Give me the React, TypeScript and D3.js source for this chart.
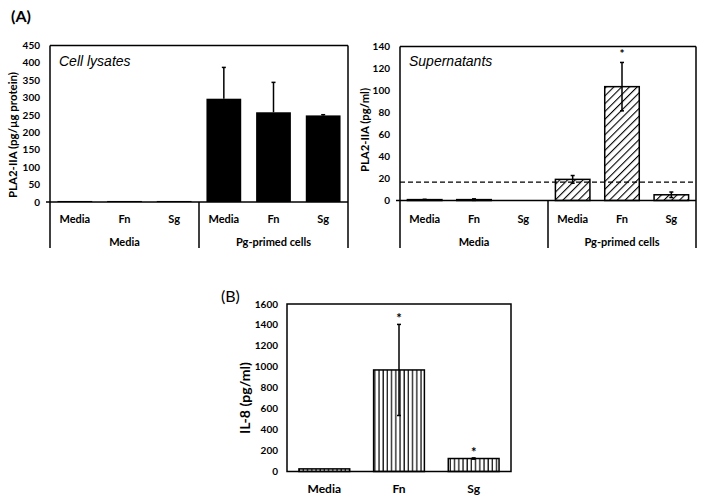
import React from "react";
import * as d3 from "d3";

const catsA = ["Media", "Fn", "Sg", "Media", "Fn", "Sg"];
const groupsA = ["Media", "Pg-primed cells"];
const lysateValues = [3, 3, 3, 297, 258, 249];
const lysateErrors = [0, 0, 0, 90, 86, 2];
const lysateTicks = [0, 50, 100, 150, 200, 250, 300, 350, 400, 450];
const superValues = [0.8, 0.8, 0, 19.2, 103.5, 5.2];
const superErrors = [0.3, 0.7, 0, 3.5, 22, 2.5];
const superStars = [false, false, false, false, true, false];
const superTicks = [0, 20, 40, 60, 80, 100, 120, 140];
const superThreshold = 16.7;
const catsB = ["Media", "Fn", "Sg"];
const il8Values = [25, 970, 124];
const il8Errors = [0, 435, 6];
const il8Stars = [false, true, true];
const il8Ticks = [0, 200, 400, 600, 800, 1000, 1200, 1400, 1600];

const LAB = "Lato, 'Open Sans', sans-serif";
const ARIAL = "'Liberation Sans', Arial, sans-serif";

type PanelProps = {
  x0: number; x1: number; yTop: number; yZero: number; yMax: number;
  values: number[]; errors: number[]; ticks: number[]; fill: string;
  title: string; titleX: number; titleY: number; titleLen: number; label: string;
  stars?: boolean[]; threshold?: number; errBothSides?: boolean;
};

function PanelA(p: PanelProps) {
  const x = d3.scaleBand<number>().domain(d3.range(6)).range([p.x0, p.x1]).paddingInner(0.3).paddingOuter(0.15);
  const y = d3.scaleLinear().domain([0, p.yMax]).range([p.yZero, p.yTop]);
  const mid = (p.x0 + p.x1) / 2;
  const bottom = 248;
  return (
    <g>
      {p.values.map((v, i) => {
        const bx = x(i)!;
        const h = p.yZero - y(v);
        if (v <= 0) return null;
        return (
          <rect key={"b" + i} x={bx} y={y(v)} width={x.bandwidth()} height={h}
            fill={p.fill} stroke="#000" strokeWidth={p.fill === "#000" ? 0 : 1.5} />
        );
      })}
      {p.values.map((v, i) => {
        const e = p.errors[i];
        if (!e) return null;
        const cx = x(i)! + x.bandwidth() / 2;
        const lo = p.errBothSides ? y(v - e) : y(v);
        return (
          <g key={"e" + i}>
            <line x1={cx} x2={cx} y1={y(v + e)} y2={lo} stroke="#000" strokeWidth={1.5} />
            <line x1={cx - 2} x2={cx + 2} y1={y(v + e)} y2={y(v + e)} stroke="#000" strokeWidth={1.5} />
            {p.errBothSides && <line x1={cx - 2} x2={cx + 2} y1={lo} y2={lo} stroke="#000" strokeWidth={1.5} />}
          </g>
        );
      })}
      {p.stars && p.stars.map((s, i) => s ? (
        <text key={"s" + i} x={x(i)! + x.bandwidth() / 2} y={y(p.values[i] + p.errors[i]) - 4}
          textAnchor="middle" fontFamily={LAB} fontWeight="bold" fontSize={12}>*</text>
      ) : null)}
      {p.threshold !== undefined && (
        <line x1={p.x0} x2={p.x1} y1={y(p.threshold)} y2={y(p.threshold)} stroke="#000"
          strokeWidth={1.3} strokeDasharray="5,3" />
      )}
      <line x1={p.x0} x2={p.x1} y1={p.yTop} y2={p.yTop} stroke="#000" strokeWidth={1.5} />
      <line x1={p.x0} x2={p.x0} y1={p.yTop} y2={bottom} stroke="#000" strokeWidth={1.5} />
      <line x1={p.x1} x2={p.x1} y1={p.yTop} y2={bottom} stroke="#000" strokeWidth={1.5} />
      <line x1={mid} x2={mid} y1={p.yZero} y2={bottom} stroke="#000" strokeWidth={1.5} />
      <line x1={p.x0 - 4} x2={p.x1} y1={p.yZero} y2={p.yZero} stroke="#000" strokeWidth={1.5} />
      {p.ticks.map((t) => (
        <text key={"t" + t} x={p.x0 - 10} y={y(t) + 3.5} textAnchor="end" fontFamily={LAB}
          fontWeight="bold" fontSize={10}>{t}</text>
      ))}
      {catsA.map((c, i) => (
        <text key={"c" + i} x={x(i)! + x.bandwidth() / 2} y={223} textAnchor="middle"
          fontFamily={LAB} fontWeight="bold" fontSize={11}>{c}</text>
      ))}
      {groupsA.map((g, i) => (
        <text key={"g" + i} x={i === 0 ? (p.x0 + mid) / 2 : (mid + p.x1) / 2} y={246}
          textAnchor="middle" fontFamily={LAB} fontWeight="bold" fontSize={11}>{g}</text>
      ))}
      <text x={p.x0 + 9} y={66} fontFamily={ARIAL} fontStyle="italic" fontSize={14}>{p.title}</text>
      <text transform={`translate(${p.titleX},${p.titleY}) rotate(-90)`} textAnchor="middle"
        fontFamily={LAB} fontWeight="bold" fontSize={11} textLength={p.titleLen}
        lengthAdjust="spacingAndGlyphs">{p.label}</text>
    </g>
  );
}

function PanelB() {
  const x0 = 287, x1 = 511, yTop = 304, yZero = 471.5;
  const x = d3.scaleBand<number>().domain(d3.range(3)).range([x0, x1]).paddingInner(0.32).paddingOuter(0.16);
  const y = d3.scaleLinear().domain([0, 1600]).range([yZero, yTop]);
  return (
    <g>
      {il8Values.map((v, i) => (
        <rect key={"b" + i} x={x(i)!} y={y(v)} width={x.bandwidth()} height={yZero - y(v)}
          fill="url(#vstripe)" stroke="#000" strokeWidth={1.5} />
      ))}
      {il8Values.map((v, i) => {
        const e = il8Errors[i];
        if (!e) return null;
        const cx = x(i)! + x.bandwidth() / 2;
        return (
          <g key={"e" + i}>
            <line x1={cx} x2={cx} y1={y(v + e)} y2={y(v - e)} stroke="#000" strokeWidth={1.5} />
            <line x1={cx - 2} x2={cx + 2} y1={y(v + e)} y2={y(v + e)} stroke="#000" strokeWidth={1.5} />
            <line x1={cx - 2} x2={cx + 2} y1={y(v - e)} y2={y(v - e)} stroke="#000" strokeWidth={1.5} />
          </g>
        );
      })}
      {il8Stars.map((s, i) => s ? (
        <text key={"s" + i} x={x(i)! + x.bandwidth() / 2} y={y(il8Values[i] + il8Errors[i]) - 1}
          textAnchor="middle" fontFamily={LAB} fontWeight="bold" fontSize={13}>*</text>
      ) : null)}
      <rect x={x0} y={yTop} width={x1 - x0} height={yZero - yTop} fill="none" stroke="#000" strokeWidth={1.5} />
      {il8Ticks.map((t) => (
        <text key={"t" + t} x={x0 - 9} y={y(t) + 3.5} textAnchor="end" fontFamily={LAB}
          fontWeight="bold" fontSize={10}>{t}</text>
      ))}
      {catsB.map((c, i) => (
        <text key={"c" + i} x={x(i)! + x.bandwidth() / 2} y={493} textAnchor="middle"
          fontFamily={LAB} fontWeight="bold" fontSize={12}>{c}</text>
      ))}
      <text transform={`translate(250,398) rotate(-90)`} textAnchor="middle" fontFamily={LAB}
        fontWeight="bold" fontSize={14} textLength={72} lengthAdjust="spacingAndGlyphs">IL-8 (pg/ml)</text>
      <text x={221} y={302} fontFamily={LAB} fontSize={16}>(B)</text>
    </g>
  );
}

export default function App() {
  return (
    <svg width={704} height={501} style={{ display: "block", position: "absolute", left: 0, top: 0 }}>
      <defs>
        <pattern id="diag" patternUnits="userSpaceOnUse" width={5.5} height={5.5} patternTransform="rotate(45)">
          <rect width={5.5} height={5.5} fill="#fff" />
          <line x1={0} y1={0} x2={0} y2={5.5} stroke="#000" strokeWidth={2.2} />
        </pattern>
        <pattern id="vstripe" patternUnits="userSpaceOnUse" width={4.2} height={10}>
          <rect width={4.2} height={10} fill="#fff" />
          <line x1={1} y1={0} x2={1} y2={10} stroke="#000" strokeWidth={1.2} />
        </pattern>
      </defs>
      <rect width={704} height={501} fill="#fff" />
      <text x={11} y={22} fontFamily={LAB} fontWeight="bold" fontSize={16}>(A)</text>
      <PanelA x0={50} x1={348} yTop={45.5} yZero={202} yMax={450} values={lysateValues}
        errors={lysateErrors} ticks={lysateTicks} fill="#000" title="Cell lysates" titleX={17}
        titleY={135} titleLen={126} label="PLA2-IIA (pg/µg protein)" />
      <PanelA x0={400} x1={696} yTop={46.5} yZero={200.5} yMax={140} values={superValues}
        errors={superErrors} ticks={superTicks} fill="url(#diag)" title="Supernatants" titleX={369}
        titleY={130} titleLen={84} label="PLA2-IIA (pg/ml)" stars={superStars}
        threshold={superThreshold} errBothSides />
      <PanelB />
    </svg>
  );
}
